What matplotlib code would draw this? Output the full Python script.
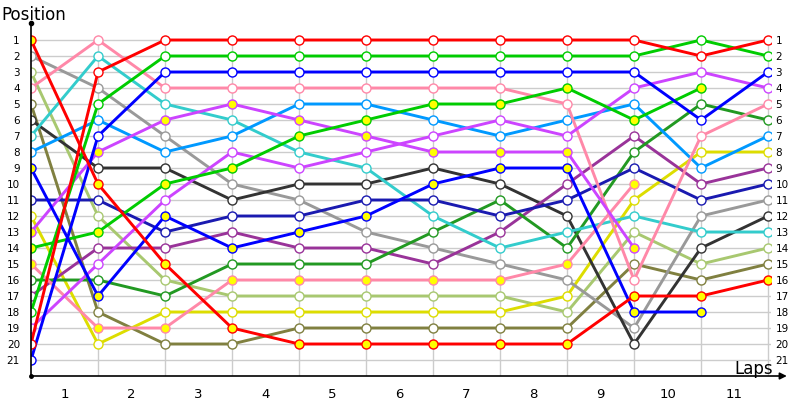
import numpy as np
import matplotlib
matplotlib.use('Agg')
import matplotlib.pyplot as plt

# positions at the end of each lap (index 0 = grid)
laps = list(range(12))
lap_labels = [str(i) for i in range(1, 12)]
positions = list(range(1, 22))

red_a = [1, 10, 15, 19, 20, 20, 20, 20, 20, 17, 17, 16]
red_b = [20, 3, 1, 1, 1, 1, 1, 1, 1, 1, 2, 1]
gray = [2, 4, 7, 10, 11, 13, 14, 15, 16, 19, 12, 11]
light_green = [3, 12, 16, 17, 17, 17, 17, 17, 18, 13, 15, 14]
pink_a = [4, 1, 4, 4, 4, 4, 4, 4, 5, 16, 7, 5]
pink_b = [15, 19, 19, 16, 16, 16, 16, 16, 15, 10]
olive = [5, 18, 20, 20, 19, 19, 19, 19, 19, 15, 16, 15]
black = [6, 9, 9, 11, 10, 10, 9, 10, 12, 20, 14, 12]
cyan = [7, 2, 5, 6, 8, 9, 12, 14, 13, 12, 13, 13]
sky_blue = [8, 6, 8, 7, 5, 5, 6, 7, 6, 5, 9, 7]
blue_a = [9, 17, 12, 14, 13, 12, 10, 9, 9, 18, 18]
navy = [11, 11, 13, 12, 12, 11, 11, 12, 11, 9, 11, 10]
yellow = [12, 20, 18, 18, 18, 18, 18, 18, 17, 11, 8, 8]
magenta_a = [13, 8, 6, 5, 6, 7, 8, 8, 8, 14]
green_a = [14, 13, 10, 9, 7, 6, 5, 5, 4, 6, 4]
forest = [16, 16, 17, 15, 15, 15, 13, 11, 14, 8, 5, 6]
purple = [17, 14, 14, 13, 14, 14, 15, 13, 10, 7, 10, 9]
green_b = [18, 5, 2, 2, 2, 2, 2, 2, 2, 2, 1, 2]
magenta_b = [19, 15, 11, 8, 9, 8, 7, 6, 7, 4, 3, 4]
blue_b = [21, 7, 3, 3, 3, 3, 3, 3, 3, 3, 6, 3]

# (data, line colour, marker fill)
series = [
    (olive, '#808040', 'white'),
    (light_green, '#a8c870', 'white'),
    (yellow, '#dddd00', 'white'),
    (gray, '#999999', 'white'),
    (black, '#333333', 'white'),
    (purple, '#993399', 'white'),
    (forest, '#229922', 'white'),
    (cyan, '#33cccc', 'white'),
    (sky_blue, '#0099ff', 'white'),
    (navy, '#1a1ab0', 'white'),
    (pink_b, '#ff88a8', 'yellow'),
    (pink_a, '#ff88a8', 'white'),
    (magenta_b, '#cc44ff', 'white'),
    (magenta_a, '#cc44ff', 'yellow'),
    (green_a, '#00cc00', 'yellow'),
    (green_b, '#00cc00', 'white'),
    (blue_a, '#0000ff', 'yellow'),
    (blue_b, '#0000ff', 'white'),
    (red_a, '#ff0000', 'yellow'),
    (red_b, '#ff0000', 'white'),
]

fig = plt.figure(figsize=(8, 4), dpi=100)
ax = fig.add_axes([0.03875, 0.06, 0.9255, 0.888])
ax.set_xlim(0, 11.05)
ax.set_ylim(22, -0.2)

for s in ax.spines.values():
    s.set_visible(False)

# grid
ax.hlines(positions, 0, 11.05, color='#cccccc', lw=1, zorder=1)
ax.vlines(laps[1:], 0.7, 22, color='#cccccc', lw=1, zorder=1)

for data, col, fill in series:
    ax.plot(laps[:len(data)], data, '-o', color=col, lw=2.1,
            markersize=6.5, markerfacecolor=fill, markeredgecolor=col,
            markeredgewidth=1, zorder=3)

# axes lines with arrow / dot
ax.plot([0, 0], [22, -0.05], color='black', lw=1.2, zorder=4, clip_on=False)
ax.plot([0], [-0.05], 'o', color='black', markersize=3, clip_on=False, zorder=4)
ax.plot([0], [22], 'o', color='black', markersize=2.5, clip_on=False, zorder=4)
ax.annotate('', xy=(11.28, 22), xytext=(0, 22),
            arrowprops=dict(arrowstyle='-|>', color='black', lw=1.2,
                            mutation_scale=10, shrinkA=0, shrinkB=0),
            annotation_clip=False)

ax.set_yticks(positions)
ax.set_yticklabels([str(p) for p in positions])
ax.tick_params(axis='y', length=0, pad=8, labelsize=7.5)

sec = ax.secondary_yaxis('right')
sec.set_yticks(positions)
sec.set_yticklabels([str(p) for p in positions])
sec.tick_params(axis='y', length=0, pad=3, labelsize=7.5)
for s in sec.spines.values():
    s.set_visible(False)

ax.set_xticks([i + 0.5 for i in range(11)])
ax.set_xticklabels(lap_labels)
ax.tick_params(axis='x', length=0, pad=9, labelsize=9.5)

fig.text(0.002, 0.962, 'Position', fontsize=12, va='center', ha='left')
fig.text(0.918, 0.078, 'Laps', fontsize=12, va='center', ha='left')

fig.savefig('out.png', dpi=100)
